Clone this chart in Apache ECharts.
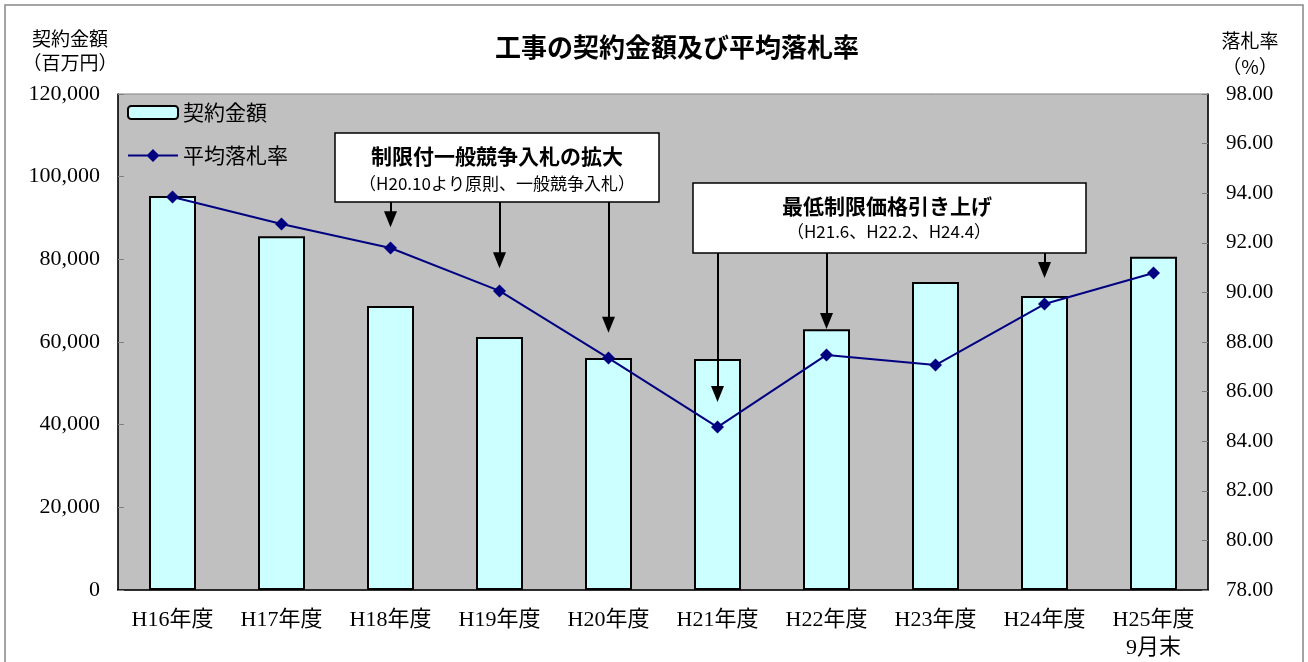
<!DOCTYPE html>
<html><head><meta charset="utf-8">
<script src="https://cdn.jsdelivr.net/npm/echarts@6/dist/echarts.min.js"></script>
<style>html,body{margin:0;padding:0;background:#fff}#c{width:1308px;height:662px}</style>
</head><body><div id="c"></div>
<script>
const categories = ['H16年度','H17年度','H18年度','H19年度','H20年度','H21年度','H22年度','H23年度','H24年度','H25年度\n9月末'];
const amounts = [95300, 85600, 68700, 61200, 56100, 55900, 63100, 74500, 71100, 80600];
const rates = [93.85, 92.76, 91.79, 90.06, 87.35, 84.57, 87.48, 87.07, 89.53, 90.78];
const leftTicks = {min: 0, max: 120000, interval: 20000};
const rightTicks = {min: 78, max: 98, interval: 2};
// annotation arrows: [category, start rate, end rate]
const arrows1 = [['H18年度', 93.65, 92.95], ['H19年度', 93.65, 91.3], ['H20年度', 93.65, 88.7]];
const arrows2 = [['H21年度', 91.59, 85.9], ['H22年度', 91.59, 88.85], ['H24年度', 91.59, 90.9]];

const serif = "'Liberation Serif','Noto Sans CJK JP',serif";
const sans = "'Noto Sans CJK JP','Noto Sans',sans-serif";

const chart = echarts.init(document.getElementById('c'));
const arrowData = arrows1.concat(arrows2).map(a => [{coord: [a[0], a[1]]}, {coord: [a[0], a[2]]}]);
const lineIcon = 'path://M0,5.5L50,5.5L50,7.5L0,7.5Z M25,0L31.5,6.5L25,13L18.5,6.5Z';

chart.setOption({
  animation: false,
  backgroundColor: '#fff',
  grid: {left: 118, right: 100, top: 94, bottom: 72, show: true, backgroundColor: '#c0c0c0', borderColor: '#808080', borderWidth: 1},
  legend: {
    left: 122, top: 97, orient: 'vertical', itemWidth: 50, itemHeight: 13, itemGap: 22,
    textStyle: {fontSize: 21, fontFamily: sans, color: '#000'},
    data: [{name: '契約金額'}, {name: '平均落札率', icon: lineIcon}]
  },
  xAxis: {
    type: 'category', data: categories,
    axisLine: {lineStyle: {color: '#000', width: 1.5}},
    axisTick: {inside: true, length: 5, lineStyle: {color: '#808080'}},
    axisLabel: {fontSize: 22, fontFamily: serif, color: '#000', margin: 16, lineHeight: 28}
  },
  yAxis: [
    {type: 'value', min: leftTicks.min, max: leftTicks.max, interval: leftTicks.interval,
     splitLine: {show: false},
     axisLine: {show: true, lineStyle: {color: '#000', width: 1.5}},
     axisTick: {show: true, inside: true, length: 6, lineStyle: {color: '#808080'}},
     axisLabel: {fontSize: 22, fontFamily: serif, color: '#000', margin: 18,
       formatter: v => v.toString().replace(/\B(?=(\d{3})+(?!\d))/g, ',')}},
    {type: 'value', min: rightTicks.min, max: rightTicks.max, interval: rightTicks.interval,
     splitLine: {show: false},
     axisLine: {show: true, lineStyle: {color: '#000', width: 1.5}},
     axisTick: {show: true, inside: true, length: 6, lineStyle: {color: '#808080'}},
     axisLabel: {fontSize: 21, fontFamily: serif, color: '#000', margin: 18,
       formatter: v => v.toFixed(2)}}
  ],
  series: [
    {name: '契約金額', type: 'bar', data: amounts, barWidth: 47, yAxisIndex: 0,
     itemStyle: {color: '#ccffff', borderColor: '#000', borderWidth: 2}, z: 2},
    {name: '平均落札率', type: 'line', data: rates, yAxisIndex: 1,
     symbol: 'diamond', symbolSize: 13, itemStyle: {color: '#000080'},
     lineStyle: {color: '#000080', width: 2}, z: 4,
     markLine: {silent: true, symbol: ['none', 'triangle'], symbolSize: [13, 16],
       label: {show: false}, lineStyle: {color: '#000', width: 2, type: 'solid'},
       emphasis: {disabled: true}, data: arrowData, z: 5}}
  ],
  graphic: [
    {type: 'rect', shape: {x: 5, y: 5, width: 1298, height: 670}, style: {fill: 'none', stroke: '#888', lineWidth: 1.5}, silent: true},
    {type: 'text', x: 677, y: 47, style: {text: '工事の契約金額及び平均落札率', font: "bold 26px 'Noto Sans CJK JP'", fill: '#000', align: 'center', verticalAlign: 'middle'}},
    {type: 'text', x: 70, y: 27, style: {text: '契約金額\n（百万円）', font: "19px 'Noto Sans CJK JP'", fill: '#000', align: 'center', lineHeight: 24}},
    {type: 'text', x: 1250, y: 28, style: {text: '落札率\n（%）', font: "19px 'Noto Sans CJK JP'", fill: '#000', align: 'center', lineHeight: 26}},
    {type: 'group', children: [
      {type: 'rect', shape: {x: 335, y: 133, width: 324, height: 69}, style: {fill: '#fff', stroke: '#000', lineWidth: 1.5}},
      {type: 'text', x: 497, y: 156, style: {text: '制限付一般競争入札の拡大', font: "bold 21px 'Noto Sans CJK JP'", fill: '#000', align: 'center', verticalAlign: 'middle'}},
      {type: 'text', x: 497, y: 184, style: {text: '（H20.10より原則、一般競争入札）', font: "17px 'Noto Sans CJK JP'", fill: '#000', align: 'center', verticalAlign: 'middle'}},
      {type: 'rect', shape: {x: 693, y: 183, width: 393, height: 70}, style: {fill: '#fff', stroke: '#000', lineWidth: 1.5}},
      {type: 'text', x: 887, y: 206, style: {text: '最低制限価格引き上げ', font: "bold 21px 'Noto Sans CJK JP'", fill: '#000', align: 'center', verticalAlign: 'middle'}},
      {type: 'text', x: 889, y: 232, style: {text: '（H21.6、H22.2、H24.4）', font: "17px 'Noto Sans CJK JP'", fill: '#000', align: 'center', verticalAlign: 'middle'}}
    ]}
  ]
});
</script></body></html>
